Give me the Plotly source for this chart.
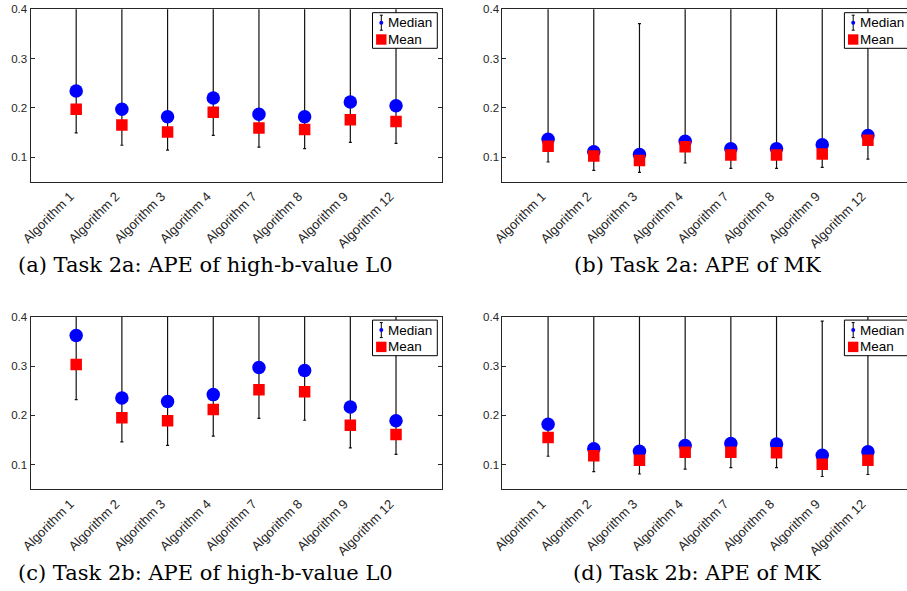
import plotly.graph_objects as go

W, H = 907, 591

algorithms = ["Algorithm 1", "Algorithm 2", "Algorithm 3", "Algorithm 4",
              "Algorithm 7", "Algorithm 8", "Algorithm 9", "Algorithm 12"]
positions = [1, 2, 3, 4, 5, 6, 7, 8]
y_ticks = [0.1, 0.2, 0.3, 0.4]
y_ticklabels = ["0.1", "0.2", "0.3", "0.4"]

# (a) Task 2a: APE of high-b-value L0
a_median = [0.234, 0.197, 0.182, 0.220, 0.187, 0.182, 0.212, 0.204]
a_mean = [0.197, 0.165, 0.151, 0.191, 0.159, 0.156, 0.176, 0.172]
a_lower = [0.149, 0.124, 0.114, 0.144, 0.120, 0.117, 0.130, 0.128]
a_upper = [0.50, 0.50, 0.50, 0.50, 0.50, 0.50, 0.50, 0.50]

# (b) Task 2a: APE of MK
b_median = [0.136, 0.111, 0.105, 0.132, 0.117, 0.117, 0.125, 0.144]
b_mean = [0.122, 0.102, 0.093, 0.121, 0.104, 0.104, 0.106, 0.134]
b_lower = [0.090, 0.073, 0.069, 0.088, 0.077, 0.077, 0.079, 0.096]
b_upper = [0.50, 0.50, 0.371, 0.50, 0.50, 0.50, 0.50, 0.50]

# (c) Task 2b: APE of high-b-value L0
c_median = [0.362, 0.235, 0.228, 0.242, 0.297, 0.291, 0.217, 0.189]
c_mean = [0.303, 0.195, 0.189, 0.212, 0.252, 0.248, 0.180, 0.161]
c_lower = [0.232, 0.146, 0.139, 0.158, 0.194, 0.190, 0.134, 0.121]
c_upper = [0.50, 0.50, 0.50, 0.50, 0.50, 0.50, 0.50, 0.50]

# (d) Task 2b: APE of MK
d_median = [0.182, 0.132, 0.127, 0.139, 0.143, 0.142, 0.119, 0.126]
d_mean = [0.155, 0.118, 0.109, 0.125, 0.125, 0.124, 0.101, 0.109]
d_lower = [0.117, 0.086, 0.081, 0.091, 0.094, 0.094, 0.076, 0.080]
d_upper = [0.50, 0.50, 0.50, 0.50, 0.50, 0.50, 0.391, 0.50]

captions = ["(a) Task 2a: APE of high-b-value L0",
            "(b) Task 2a: APE of MK",
            "(c) Task 2b: APE of high-b-value L0",
            "(d) Task 2b: APE of MK"]

panels = [
    (a_median, a_mean, a_lower, a_upper),
    (b_median, b_mean, b_lower, b_upper),
    (c_median, c_mean, c_lower, c_upper),
    (d_median, d_mean, d_lower, d_upper),
]

# ---- pixel geometry of the four axes (left, right, top, bottom) ----
unit = 45.69
boxes = [
    (30.5, 30.5 + 9 * unit, 9.3, 181.7),
    (502.4, 907.0, 9.3, 181.7),
    (30.5, 30.5 + 9 * unit, 316.7, 489.3),
    (502.4, 907.0, 316.7, 489.3),
]
caption_pos = [(205, 265), (697, 265), (205, 573), (697, 573)]


def px(x):
    return x / W


def py(y):
    return 1 - y / H


AX_COLOR = "#262626"
Y_FONT = dict(family="Liberation Sans, Arial, sans-serif", size=11.5, color=AX_COLOR)
X_FONT = dict(family="Liberation Sans, Arial, sans-serif", size=13, color=AX_COLOR)

fig = go.Figure()
layout = dict(
    width=W, height=H,
    margin=dict(l=0, r=0, t=0, b=0, autoexpand=False),
    paper_bgcolor="white", plot_bgcolor="white",
    showlegend=False,
)
shapes = []
annotations = []

for i, ((med, mean, lo, up), (l, r, t, b)) in enumerate(zip(panels, boxes)):
    n = "" if i == 0 else str(i + 1)
    xa, ya = "x" + n, "y" + n
    err_plus = [u - m for u, m in zip(up, med)]
    err_minus = [m - v for m, v in zip(med, lo)]
    fig.add_trace(go.Scatter(
        x=positions, y=med, mode="markers", xaxis=xa, yaxis=ya,
        name="Median",
        marker=dict(symbol="circle", size=13.5, color="#0000ff", line=dict(width=0)),
        error_y=dict(type="data", symmetric=False, array=err_plus, arrayminus=err_minus,
                     color="#111111", thickness=1.2, width=1.5),
    ))
    fig.add_trace(go.Scatter(
        x=positions, y=mean, mode="markers", xaxis=xa, yaxis=ya,
        name="Mean",
        marker=dict(symbol="square", size=11.5, color="#ff0000", line=dict(width=0)),
    ))
    right_cut = i in (1, 3)
    xmax = (r - l) / unit
    layout["xaxis" + n] = dict(
        domain=[px(l), px(r)], range=[0, xmax], anchor=ya, automargin=False,
        tickvals=positions, ticktext=algorithms, tickangle=-45,
        ticklabelshift=-6, ticklabelstandoff=1,
        ticks="", showgrid=False, zeroline=False,
        showline=True, linecolor=AX_COLOR, linewidth=1, mirror=True,
        tickfont=X_FONT,
    )
    layout["yaxis" + n] = dict(
        domain=[py(b), py(t)], range=[0.05, 0.4], anchor=xa, automargin=False,
        tickvals=y_ticks, ticktext=y_ticklabels,
        ticks="inside", ticklen=4, tickcolor=AX_COLOR,
        showgrid=False, zeroline=False,
        showline=True, linecolor=AX_COLOR, linewidth=1,
        mirror=False if right_cut else "ticks",
        tickfont=Y_FONT,
    )

    # ---- legend box drawn per panel ----
    lx0, lx1 = l + 342.0, l + 406.8
    ly0, ly1 = t + 3.4, t + 39.0
    shapes.append(dict(type="rect", xref="paper", yref="paper",
                       x0=px(lx0), x1=px(lx1), y0=py(ly1), y1=py(ly0),
                       line=dict(color="black", width=1), fillcolor="white", layer="above"))
    sx = l + 350.8
    row1 = t + 13.4
    row2 = t + 30.2
    # error bar glyph
    shapes.append(dict(type="line", xref="paper", yref="paper",
                       x0=px(sx), x1=px(sx), y0=py(row1 - 7.5), y1=py(row1 + 7.5),
                       line=dict(color="black", width=1), layer="above"))
    for yy in (row1 - 7.5, row1 + 7.5):
        shapes.append(dict(type="line", xref="paper", yref="paper",
                           x0=px(sx - 1.5), x1=px(sx + 1.5), y0=py(yy), y1=py(yy),
                           line=dict(color="black", width=1), layer="above"))
    shapes.append(dict(type="circle", xref="paper", yref="paper",
                       x0=px(sx - 2), x1=px(sx + 2), y0=py(row1 + 2), y1=py(row1 - 2),
                       line=dict(width=0), fillcolor="#0000ff", layer="above"))
    shapes.append(dict(type="rect", xref="paper", yref="paper",
                       x0=px(sx - 5.2), x1=px(sx + 5.2), y0=py(row2 + 5.2), y1=py(row2 - 5.2),
                       line=dict(width=0), fillcolor="#ff0000", layer="above"))
    for txt, yy in (("Median", row1), ("Mean", row2)):
        annotations.append(dict(
            text=txt, xref="paper", yref="paper", x=px(l + 355.5), y=py(yy),
            xanchor="left", yanchor="middle", showarrow=False,
            font=dict(family="Liberation Sans, Arial, sans-serif", size=13.5, color="black"),
        ))

    cx, cy = caption_pos[i]
    annotations.append(dict(
        text=captions[i], xref="paper", yref="paper", x=px(cx), y=py(cy),
        xanchor="center", yanchor="middle", showarrow=False,
        font=dict(family="DejaVu Serif, serif", size=21, color="black"),
    ))

layout["shapes"] = shapes
layout["annotations"] = annotations
fig.update_layout(**layout)
fig.write_html(
    "out.html",
    config={"displayModeBar": False, "staticPlot": True},
    post_script="document.body.style.margin='0';document.body.style.padding='0';"
                "document.body.style.overflow='hidden';",
)
